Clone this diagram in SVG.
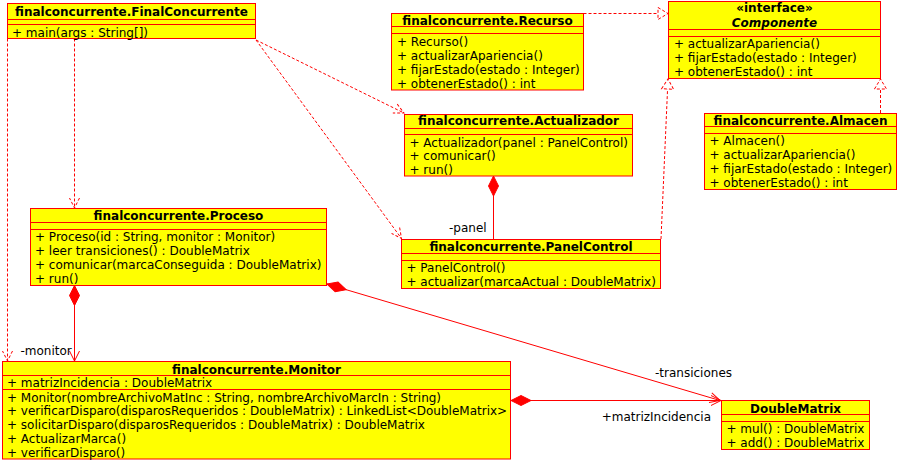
<svg xmlns="http://www.w3.org/2000/svg" width="899" height="460" viewBox="0 0 899 460">
<style>
.box{fill:#ffff00;stroke:#ff0000;stroke-width:1}
.sep{stroke:#ff0000;stroke-width:1}
text{font-family:"DejaVu Sans","Liberation Sans",sans-serif;font-size:12px;fill:#000}
.ti{font-weight:bold;text-anchor:middle}
.it{font-style:italic}
.dep{stroke:#ff0000;stroke-width:1;fill:none;stroke-dasharray:3,2}
.ass{stroke:#ff0000;stroke-width:1;fill:none}
</style>
<defs>
<marker id="openD" markerUnits="userSpaceOnUse" markerWidth="20" markerHeight="20" refX="0" refY="0" orient="auto" overflow="visible"><path d="M-10,-5 L0,0 L-10,5" fill="none" stroke="#ff0000" stroke-dasharray="3,2"/></marker>
<marker id="open" markerUnits="userSpaceOnUse" markerWidth="20" markerHeight="20" refX="0" refY="0" orient="auto" overflow="visible"><path d="M-10,-5 L0,0 L-10,5" fill="none" stroke="#ff0000"/></marker>
<marker id="tri" markerUnits="userSpaceOnUse" markerWidth="20" markerHeight="20" refX="0" refY="0" orient="auto" overflow="visible"><path d="M-10,-6 L0,0 L-10,6 Z" fill="#ffffff" stroke="#ff0000" stroke-dasharray="3,2"/></marker>
<marker id="dia" markerUnits="userSpaceOnUse" markerWidth="24" markerHeight="24" refX="0" refY="0" orient="auto" overflow="visible"><path d="M0,0 L10,-5 L20,0 L10,5 Z" fill="#ff0000" stroke="#ff0000"/></marker>
</defs>

<g id="connectors">
<line class="dep" x1="7.5" y1="38.5" x2="7.5" y2="361" marker-end="url(#openD)"/>
<line class="dep" x1="74.5" y1="38.5" x2="74.5" y2="208" marker-end="url(#openD)"/>
<line class="dep" x1="256" y1="40" x2="404" y2="113" marker-end="url(#openD)"/>
<line class="dep" x1="256" y1="40" x2="401.5" y2="238.5" marker-end="url(#openD)"/>
<line class="dep" x1="583.5" y1="13.5" x2="668" y2="13.5" marker-end="url(#tri)"/>
<line class="dep" x1="661" y1="239" x2="668" y2="79" marker-end="url(#tri)"/>
<line class="dep" x1="880.5" y1="113" x2="880.5" y2="79" marker-end="url(#tri)"/>
<line class="ass" x1="493.5" y1="176" x2="493.5" y2="239.5" marker-start="url(#dia)"/>
<line class="ass" x1="74.5" y1="285.5" x2="74.5" y2="361" marker-start="url(#dia)" marker-end="url(#open)"/>
<line class="ass" x1="327" y1="284" x2="720" y2="400.5" marker-start="url(#dia)" marker-end="url(#open)"/>
<line class="ass" x1="511" y1="400.5" x2="721" y2="400.5" marker-start="url(#dia)" marker-end="url(#open)"/>
<text x="449" y="232">-panel</text>
<text x="20.5" y="354.5">-monitor</text>
<text x="655" y="376.5">-transiciones</text>
<text x="711" y="421" text-anchor="end">+matrizIncidencia</text>
</g>

<g id="FinalConcurrente">
<rect class="box" x="7.5" y="3.5" width="248" height="35"/>
<line class="sep" x1="7.5" y1="19.5" x2="255.5" y2="19.5"/>
<line class="sep" x1="7.5" y1="24.5" x2="255.5" y2="24.5"/>
<text class="ti" x="131.5" y="15.5">finalconcurrente.FinalConcurrente</text>
<text x="12" y="36.5">+ main(args : String[])</text>
</g>

<g id="Recurso">
<rect class="box" x="391.5" y="13.5" width="192" height="76.5"/>
<line class="sep" x1="391.5" y1="26.5" x2="583.5" y2="26.5"/>
<line class="sep" x1="391.5" y1="33.5" x2="583.5" y2="33.5"/>
<text class="ti" x="487.5" y="25">finalconcurrente.Recurso</text>
<text x="397" y="46">+ Recurso()</text>
<text x="397" y="60">+ actualizarApariencia()</text>
<text x="397" y="74">+ fijarEstado(estado : Integer)</text>
<text x="397" y="88">+ obtenerEstado() : int</text>
</g>

<g id="Componente">
<rect class="box" x="668.5" y="1.5" width="212" height="77"/>
<line class="sep" x1="668.5" y1="29.5" x2="880.5" y2="29.5"/>
<line class="sep" x1="668.5" y1="36.5" x2="880.5" y2="36.5"/>
<text class="ti" x="774.5" y="12">«interface»</text>
<text class="ti it" x="774.5" y="27">Componente</text>
<text x="674" y="48">+ actualizarApariencia()</text>
<text x="674" y="62">+ fijarEstado(estado : Integer)</text>
<text x="674" y="76">+ obtenerEstado() : int</text>
</g>

<g id="Actualizador">
<rect class="box" x="404.5" y="114.5" width="228" height="61.5"/>
<line class="sep" x1="404.5" y1="128.5" x2="632.5" y2="128.5"/>
<line class="sep" x1="404.5" y1="134.5" x2="632.5" y2="134.5"/>
<text class="ti" x="518.5" y="125">finalconcurrente.Actualizador</text>
<text x="409.5" y="146.5">+ Actualizador(panel : PanelControl)</text>
<text x="409.5" y="160">+ comunicar()</text>
<text x="409.5" y="174">+ run()</text>
</g>

<g id="Almacen">
<rect class="box" x="704.5" y="113.5" width="192" height="76"/>
<line class="sep" x1="704.5" y1="126.5" x2="896.5" y2="126.5"/>
<line class="sep" x1="704.5" y1="133.5" x2="896.5" y2="133.5"/>
<text class="ti" x="800.5" y="124.5">finalconcurrente.Almacen</text>
<text x="709.5" y="145">+ Almacen()</text>
<text x="709.5" y="159">+ actualizarApariencia()</text>
<text x="709.5" y="173">+ fijarEstado(estado : Integer)</text>
<text x="709.5" y="187">+ obtenerEstado() : int</text>
</g>

<g id="PanelControl">
<rect class="box" x="401.5" y="239.5" width="259" height="49"/>
<line class="sep" x1="401.5" y1="253.5" x2="660.5" y2="253.5"/>
<line class="sep" x1="401.5" y1="260.5" x2="660.5" y2="260.5"/>
<text class="ti" x="531" y="251">finalconcurrente.PanelControl</text>
<text x="406.5" y="272">+ PanelControl()</text>
<text x="406.5" y="286">+ actualizar(marcaActual : DoubleMatrix)</text>
</g>

<g id="Proceso">
<rect class="box" x="30.5" y="208.5" width="296" height="77"/>
<line class="sep" x1="30.5" y1="222.5" x2="326.5" y2="222.5"/>
<line class="sep" x1="30.5" y1="229.5" x2="326.5" y2="229.5"/>
<text class="ti" x="178.5" y="220">finalconcurrente.Proceso</text>
<text x="35" y="240.5">+ Proceso(id : String, monitor : Monitor)</text>
<text x="35" y="255">+ leer transiciones() : DoubleMatrix</text>
<text x="35" y="269">+ comunicar(marcaConseguida : DoubleMatrix)</text>
<text x="35" y="283">+ run()</text>
</g>

<g id="Monitor">
<rect class="box" x="2.5" y="361.5" width="508" height="97.5"/>
<line class="sep" x1="2.5" y1="375.5" x2="510.5" y2="375.5"/>
<line class="sep" x1="2.5" y1="389.5" x2="510.5" y2="389.5"/>
<text class="ti" x="256.5" y="373.5">finalconcurrente.Monitor</text>
<text x="7" y="386.5">+ matrizIncidencia : DoubleMatrix</text>
<text x="7" y="401.5">+ Monitor(nombreArchivoMatInc : String, nombreArchivoMarcIn : String)</text>
<text x="7" y="415">+ verificarDisparo(disparosRequeridos : DoubleMatrix) : LinkedList&lt;DoubleMatrix&gt;</text>
<text x="7" y="429">+ solicitarDisparo(disparosRequeridos : DoubleMatrix) : DoubleMatrix</text>
<text x="7" y="443">+ ActualizarMarca()</text>
<text x="7" y="457">+ verificarDisparo()</text>
</g>

<g id="DoubleMatrix">
<rect class="box" x="721.5" y="400.5" width="148" height="49"/>
<line class="sep" x1="721.5" y1="414.5" x2="869.5" y2="414.5"/>
<line class="sep" x1="721.5" y1="421.5" x2="869.5" y2="421.5"/>
<text class="ti" x="795.5" y="412.5">DoubleMatrix</text>
<text x="726.5" y="433">+ mul() : DoubleMatrix</text>
<text x="726.5" y="447">+ add() : DoubleMatrix</text>
</g>
</svg>
